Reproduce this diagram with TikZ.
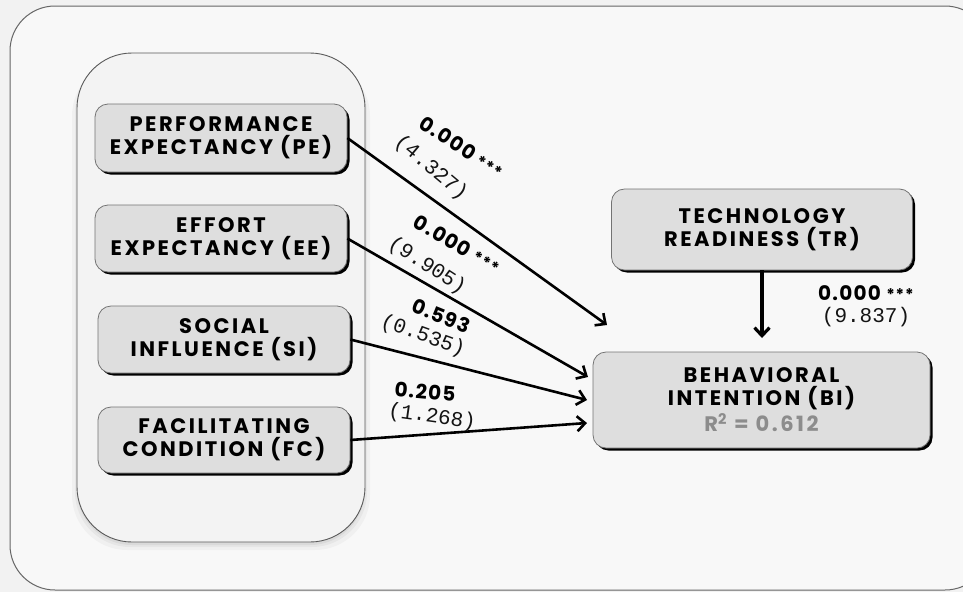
\documentclass[tikz,border=0pt]{standalone}
\usepackage{fontspec}
\newfontfamily\pop{Poppins}[LetterSpace=12]
\newfontfamily\popl{Poppins}[LetterSpace=6]
\newfontfamily\mono{Liberation Mono}
\usetikzlibrary{arrows.meta,shadows}
\definecolor{pagebg}{HTML}{F2F2F2}
\definecolor{outerfill}{HTML}{F8F8F8}
\definecolor{groupfill}{HTML}{F3F3F3}
\definecolor{boxgray}{HTML}{DEDEDE}
\definecolor{rgray}{HTML}{8C8C8C}
\tikzset{
  box/.style={draw=black!55, line width=0.8pt, fill=boxgray, rounded corners=13pt,
    align=center, inner sep=1pt, text=black,
    font=\pop\bfseries\fontsize{21}{23}\selectfont,
    drop shadow={shadow xshift=2.5pt, shadow yshift=-2.5pt, fill=black, opacity=1}},
  conn/.style={line width=2.6pt, -{Straight Barb[length=8pt,width=15pt]}},
  blab/.style={font=\popl\bfseries\fontsize{20}{20}\selectfont, inner sep=0pt},
  plab/.style={font=\mono\fontsize{21}{21}\selectfont, inner sep=0pt, text=black!92},
}
\newcommand{\stars}{{\fontsize{16}{16}\selectfont***}}
\begin{document}
\begin{tikzpicture}[x=1pt,y=-1pt]
\useasboundingbox (0,0) rectangle (963,592);
\clip (0,0) rectangle (963,592);
\fill[pagebg] (0,0) rectangle (963,592);
\path[draw=black!60, line width=1pt, fill=outerfill, rounded corners=45pt] (10,6) rectangle (990,590);
\foreach \o/\a in {8/0.03,5/0.04,3/0.05}{
  \fill[black, opacity=\a, rounded corners=55pt] (77-\o+3,53+\o) rectangle (365+\o-3,542+\o);
}
\path[draw=black!65, line width=0.9pt, fill=groupfill, rounded corners=55pt] (77,53) rectangle (365,542);

\node[box, minimum width=252pt, minimum height=68pt] (pe) at (221,138) {PERFORMANCE\\EXPECTANCY (PE)};
\node[box, minimum width=252pt, minimum height=67pt] (ee) at (221,238.5) {EFFORT\\EXPECTANCY (EE)};
\node[box, minimum width=252pt, minimum height=67pt] (si) at (224,339.5) {SOCIAL\\INFLUENCE (SI)};
\node[box, minimum width=252pt, minimum height=66pt] (fc) at (224,440) {FACILITATING\\CONDITION (FC)};
\node[box, minimum width=301pt, minimum height=81pt] (tr) at (762,229.5) {TECHNOLOGY\\READINESS (TR)};
\node[box, minimum width=337pt, minimum height=96pt] (bi) at (761.5,400) {BEHAVIORAL\\INTENTION (BI)\\[3pt]\textcolor{rgray}{R\textsuperscript{2} = 0.612}};

\coordinate (tpe) at (607,325);
\coordinate (tee) at (588,377);
\coordinate (tsi) at (587,400);
\coordinate (tfc) at (587,423);
\coordinate (ttr) at (762,338);

\draw[conn] (pe.east) -- (tpe);
\draw[conn] (ee.east) -- (tee);
\draw[conn] (si.east) -- (tsi);
\draw[conn] (fc.east) -- (tfc);
\draw[conn, line width=3.2pt] (tr.south) -- (ttr);

\node[blab, rotate=-33] (l1a) at (462,147) {0.000 \stars};
\node[plab, rotate=-40] (l1b) at (431,168) {(4.327)};
\node[blab, rotate=-30] (l2a) at (457,244) {0.000 \stars};
\node[plab, rotate=-33] (l2b) at (427,266) {(9.905)};
\node[blab, rotate=-22] (l3a) at (441,316) {0.593};
\node[plab, rotate=-20] (l3b) at (423,336) {(0.535)};
\node[blab, rotate=-5] (l4a) at (425,392) {0.205};
\node[plab, rotate=-8] (l4b) at (432,417) {(1.268)};
\node[blab] (l5a) at (866,293) {0.000 \stars};
\node[plab] (l5b) at (866,317) {(9.837)};
\end{tikzpicture}
\end{document}
